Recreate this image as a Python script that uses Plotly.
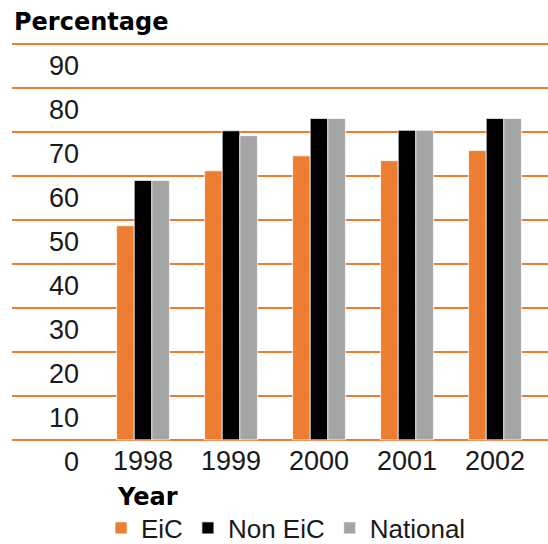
import plotly.graph_objects as go

years = ["1998", "1999", "2000", "2001", "2002"]
eic = [48.7, 61.2, 64.6, 63.5, 65.8]
non_eic = [59.0, 70.3, 73.1, 70.4, 73.1]
national = [59.0, 69.2, 73.1, 70.4, 73.1]
y_ticks = [0, 10, 20, 30, 40, 50, 60, 70, 80, 90]

ORANGE = "#ED7D31"
BLACK = "#000000"
GREY = "#A5A5A5"
FONT = "Liberation Sans"
BOLD = "DejaVu Sans"
TXT = "#1a1a1a"

# plot area in pixels: x 12..548, y 42..442 (range -0.5..90.5)
TOP, BOT = 42, 442
H = BOT - TOP
YMIN, YMAX = -0.5, 90.5


def py(pix):
    return (BOT - pix) / H


def pv(val):
    return (val - YMIN) / (YMAX - YMIN)


xs = list(range(len(years)))
fig = go.Figure()
for name, vals, col in [("EiC", eic, ORANGE), ("Non EiC", non_eic, BLACK), ("National", national, GREY)]:
    fig.add_trace(go.Bar(x=xs, y=vals, name=name,
                         marker=dict(color=col, line=dict(color="rgba(255,255,255,0.7)", width=1))))

fig.update_layout(
    width=548, height=544,
    margin=dict(l=12, r=0, t=TOP, b=544 - BOT, autoexpand=False),
    paper_bgcolor="white", plot_bgcolor="white",
    barmode="group", bargap=0.4, bargroupgap=0,
    font=dict(family=FONT, size=27, color=TXT),
    showlegend=True,
    legend=dict(orientation="h", x=(101 - 12) / 536, xanchor="left",
                yref="container", y=1 - 528 / 544, yanchor="middle",
                font=dict(size=26, color=TXT), itemwidth=30, tracegroupgap=0,
                bgcolor="rgba(0,0,0,0)"),
)
fig.update_xaxes(range=[-1.489, 4.602], tickmode="array", tickvals=xs, ticktext=years,
                 showgrid=False, zeroline=False, showline=False, ticks="",
                 tickfont=dict(size=27, color=TXT), ticklabelstandoff=0, automargin=False)
fig.update_yaxes(range=[YMIN, YMAX], tickmode="array", tickvals=y_ticks, showticklabels=False,
                 showgrid=True, gridcolor=ORANGE, gridwidth=2, zeroline=False, showline=False,
                 automargin=False)

for v in y_ticks:
    fig.add_annotation(x=(81 - 12) / 536, xref="paper", xanchor="right", y=pv(v - 5), yref="paper",
                       yanchor="middle", text=str(v), showarrow=False,
                       font=dict(size=27, color=TXT))

fig.add_annotation(x=0, xref="paper", xanchor="left", y=py(22), yref="paper", yanchor="middle",
                   text="<b>Percentage</b>", showarrow=False,
                   font=dict(family=BOLD, size=24, color="#000"))
fig.add_annotation(x=(147 - 12) / 536, xref="paper", xanchor="center", y=py(497), yref="paper",
                   yanchor="middle", text="<b>Year</b>", showarrow=False,
                   font=dict(family=BOLD, size=24, color="#000"))

fig.write_html("out.html")
